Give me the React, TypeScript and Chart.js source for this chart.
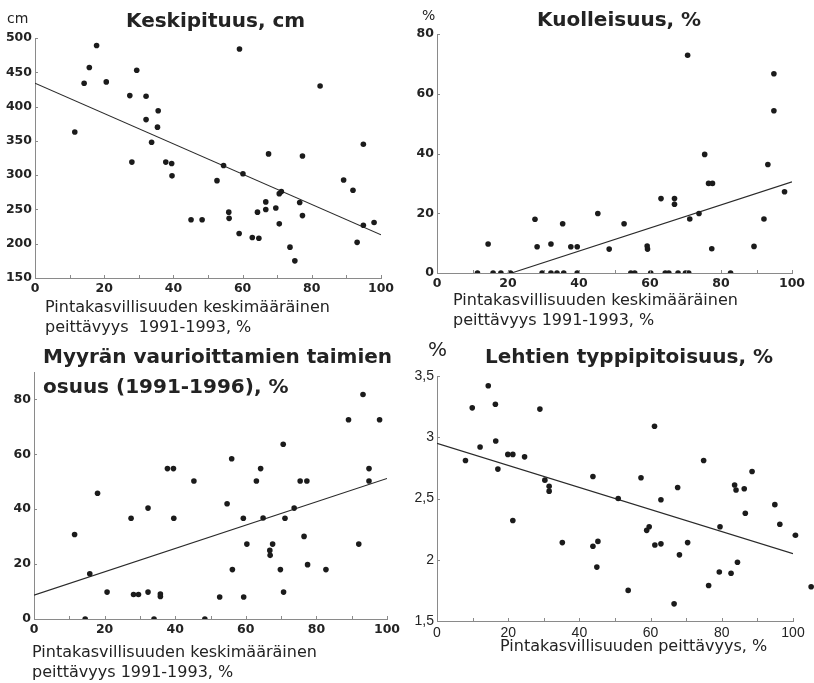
import React, { useEffect, useRef } from "react";
import { Chart, registerables } from "chart.js";

Chart.register(...registerables);

const SANS = "'DejaVu Sans', sans-serif";
const HELV = "'Liberation Sans', Arial, sans-serif";
const INK = "#232323";
const AXIS = "#8a8a8a";
const DOT = "#1b1b1b";
const DOT_RADIUS = 2.8;

// Keskipituus (cm) vs. pintakasvillisuuden peittävyys (%)
const heightCover = [11.5, 14.2, 15.7, 17.8, 20.6, 27.4, 29.4, 28.0, 32.1, 32.1, 35.6, 35.4, 33.7, 37.8, 39.5, 39.6, 45.1, 48.3, 52.6, 54.5, 56.0, 56.1, 59.1, 59.0, 60.1, 62.8, 64.7, 64.3, 66.7, 66.7, 67.5, 69.6, 70.6, 70.6, 71.2, 73.7, 75.1, 76.5, 77.3, 77.3, 82.4, 89.2, 91.9, 93.1, 94.9, 94.9, 98.0];
const heightCm = [363, 434, 457, 489, 436, 416, 453, 319, 415, 381, 394, 370, 348, 319, 317, 299, 235, 235, 292, 314, 246, 237, 484, 215, 302, 209, 208, 246, 261, 250, 331, 252, 229, 273, 276, 195, 175, 260, 328, 241, 430, 293, 278, 202, 345, 227, 231];
const heightFitX = [0, 100];
const heightFitY = [434, 213];

// Kuolleisuus (%)
const mortCover = [11.4, 14.4, 15.8, 18.0, 20.7, 27.6, 28.2, 29.6, 32.1, 32.1, 33.8, 35.4, 35.7, 37.7, 39.5, 39.5, 45.3, 48.5, 52.7, 54.6, 55.7, 59.2, 59.3, 60.2, 63.1, 64.3, 65.3, 66.9, 66.9, 67.9, 70.0, 70.9, 70.6, 71.2, 73.8, 75.4, 76.5, 77.6, 77.4, 82.7, 89.3, 92.1, 93.2, 94.9, 94.9, 97.9];
const mortPct = [0, 9.7, 0, 0, 0, 18, 8.8, 0, 9.7, 0, 0, 16.5, 0, 8.8, 8.8, 0, 19.9, 8, 16.5, 0, 0, 9, 8, 0, 24.9, 0, 0, 24.9, 23, 0, 0, 0, 72.9, 18.1, 19.9, 39.7, 30, 30, 8.1, 0, 8.9, 18.1, 36.3, 66.7, 54.3, 27.2];
const mortFitX = [21, 100];
const mortFitY = [0, 30.5];

// Myyrän vaurioittamien taimien osuus (%)
const voleCover = [11.5, 14.5, 15.8, 18.0, 20.7, 27.5, 28.2, 29.6, 32.3, 32.3, 34.0, 35.8, 35.8, 37.8, 39.5, 39.6, 45.3, 48.4, 52.6, 54.7, 56.0, 56.2, 59.3, 59.4, 60.3, 63.0, 64.2, 64.9, 66.8, 66.9, 67.6, 69.8, 70.6, 70.7, 71.1, 73.7, 75.4, 76.5, 77.3, 77.5, 82.7, 89.1, 92.0, 93.2, 94.9, 94.9, 97.9];
const volePct = [30.8, 0, 16.5, 45.8, 9.8, 36.7, 8.9, 8.9, 40.4, 9.8, 0, 8.2, 9.1, 54.8, 54.8, 36.7, 50.3, 0, 8.0, 42.0, 58.4, 18.0, 36.7, 8.0, 27.3, 50.3, 54.8, 36.8, 25.0, 23.2, 27.3, 18.0, 63.7, 9.8, 36.7, 40.4, 50.3, 30.1, 50.3, 19.8, 18.0, 72.6, 27.3, 81.8, 54.8, 50.3, 72.6];
const voleFitX = [0, 100];
const voleFitY = [8.7, 51.2];

// Lehtien typpipitoisuus (%)
const nitroCover = [8.0, 9.9, 12.1, 14.4, 16.4, 16.5, 17.1, 19.9, 21.3, 21.3, 24.6, 28.9, 30.3, 31.5, 31.5, 35.2, 43.8, 43.8, 45.2, 44.9, 50.9, 53.7, 57.3, 58.9, 59.6, 61.1, 61.2, 62.9, 62.9, 66.6, 67.6, 68.1, 70.4, 74.9, 76.3, 79.5, 79.3, 82.6, 83.6, 84.0, 84.4, 86.3, 86.6, 88.5, 94.9, 96.3, 100.7, 105.1];
const nitroPct = [2.81, 3.24, 2.92, 3.42, 3.27, 2.97, 2.74, 2.86, 2.86, 2.32, 2.84, 3.23, 2.65, 2.6, 2.56, 2.14, 2.68, 2.11, 2.15, 1.94, 2.5, 1.75, 2.67, 2.24, 2.27, 3.09, 2.12, 2.49, 2.13, 1.64, 2.59, 2.04, 2.14, 2.81, 1.79, 2.27, 1.9, 1.89, 2.61, 2.57, 1.98, 2.58, 2.38, 2.72, 2.45, 2.29, 2.2, 1.78];
const nitroFitX = [0, 100];
const nitroFitY = [2.95, 2.05];

type Box = { left: number; top: number; width: number; height: number };
type Area = { left: number; top: number; right: number; bottom: number };
type Label = { text: string; x: number; y: number; font: string };

type PanelSpec = {
  box: Box;
  area: Area;
  xs: number[];
  ys: number[];
  fitX: number[];
  fitY: number[];
  yMin: number;
  yMax: number;
  yStep: number;
  decimalComma?: boolean;
  tickFont: { family: string; size: number; weight?: string };
  tickPad: number;
  labels: Label[];
};

const TITLE_FONT = `bold 20px ${SANS}`;
const AXIS_FONT = `16px ${SANS}`;
const BOLD_TICKS = { family: SANS, size: 12.5, weight: "bold" };

const panels: PanelSpec[] = [
  {
    box: { left: 0, top: 0, width: 407, height: 335 },
    area: { left: 35, top: 38, right: 381, bottom: 278 },
    xs: heightCover, ys: heightCm, fitX: heightFitX, fitY: heightFitY,
    yMin: 150, yMax: 500, yStep: 50,
    tickFont: BOLD_TICKS, tickPad: 3,
    labels: [
      { text: "cm", x: 7, y: 23, font: `14px ${SANS}` },
      { text: "Keskipituus, cm", x: 126, y: 27, font: TITLE_FONT },
      { text: "Pintakasvillisuuden keskimääräinen", x: 45, y: 312, font: AXIS_FONT },
      { text: "peittävyys  1991-1993, %", x: 45, y: 332, font: AXIS_FONT },
    ],
  },
  {
    box: { left: 407, top: 0, width: 407, height: 335 },
    area: { left: 437, top: 34, right: 792, bottom: 273 },
    xs: mortCover, ys: mortPct, fitX: mortFitX, fitY: mortFitY,
    yMin: 0, yMax: 80, yStep: 20,
    tickFont: BOLD_TICKS, tickPad: 3,
    labels: [
      { text: "%", x: 422, y: 20, font: `14px ${SANS}` },
      { text: "Kuolleisuus, %", x: 537, y: 26, font: TITLE_FONT },
      { text: "Pintakasvillisuuden keskimääräinen", x: 453, y: 305, font: AXIS_FONT },
      { text: "peittävyys 1991-1993, %", x: 453, y: 325, font: AXIS_FONT },
    ],
  },
  {
    box: { left: 0, top: 335, width: 407, height: 348 },
    area: { left: 34, top: 372, right: 387, bottom: 619 },
    xs: voleCover, ys: volePct, fitX: voleFitX, fitY: voleFitY,
    yMin: 0, yMax: 90, yStep: 20,
    tickFont: BOLD_TICKS, tickPad: 3,
    labels: [
      { text: "Myyrän vaurioittamien taimien", x: 43, y: 363, font: TITLE_FONT },
      { text: "osuus (1991-1996), %", x: 43, y: 393, font: TITLE_FONT },
      { text: "Pintakasvillisuuden keskimääräinen", x: 32, y: 657, font: AXIS_FONT },
      { text: "peittävyys 1991-1993, %", x: 32, y: 677, font: AXIS_FONT },
    ],
  },
  {
    box: { left: 407, top: 335, width: 407, height: 348 },
    area: { left: 437, top: 376, right: 793, bottom: 621 },
    xs: nitroCover, ys: nitroPct, fitX: nitroFitX, fitY: nitroFitY,
    yMin: 1.5, yMax: 3.5, yStep: 0.5, decimalComma: true,
    tickFont: { family: HELV, size: 14 }, tickPad: 4,
    labels: [
      { text: "%", x: 428, y: 356, font: `20px ${SANS}` },
      { text: "Lehtien typpipitoisuus, %", x: 485, y: 363, font: TITLE_FONT },
      { text: "Pintakasvillisuuden peittävyys, %", x: 500, y: 651, font: AXIS_FONT },
    ],
  },
];

function makeDecor(spec: PanelSpec) {
  return {
    id: "panelDecor",
    afterDatasetsDraw(chart: Chart) {
      // points whose cover value lies past the axis end are still plotted
      const { ctx } = chart;
      const meta = chart.getDatasetMeta(0);
      const xMax = chart.scales.x.max;
      ctx.save();
      ctx.fillStyle = DOT;
      meta.data.forEach((el: any, i: number) => {
        if (spec.xs[i] > xMax) {
          ctx.beginPath();
          ctx.arc(el.x, el.y, DOT_RADIUS, 0, Math.PI * 2);
          ctx.fill();
        }
      });
      ctx.restore();
    },
    afterDraw(chart: Chart) {
      const { ctx, chartArea } = chart;
      const xs = chart.scales.x;
      const ys = chart.scales.y;
      ctx.save();
      // short inward tick marks on both axes
      ctx.strokeStyle = AXIS;
      ctx.lineWidth = 1;
      ctx.beginPath();
      for (let v = 10; v <= 100; v += 10) {
        const px = Math.round(xs.getPixelForValue(v)) + 0.5;
        ctx.moveTo(px, chartArea.bottom);
        ctx.lineTo(px, chartArea.bottom - 3);
      }
      for (let v = spec.yMin + spec.yStep; v <= spec.yMax + 1e-9; v += spec.yStep) {
        const py = Math.round(ys.getPixelForValue(v)) + 0.5;
        ctx.moveTo(chartArea.left, py);
        ctx.lineTo(chartArea.left + 3, py);
      }
      ctx.stroke();
      // titles, units and axis captions
      ctx.fillStyle = INK;
      ctx.textBaseline = "alphabetic";
      ctx.textAlign = "left";
      for (const l of spec.labels) {
        ctx.font = l.font;
        ctx.fillText(l.text, l.x - spec.box.left, l.y - spec.box.top);
      }
      ctx.restore();
    },
  };
}

function Panel({ spec }: { spec: PanelSpec }) {
  const ref = useRef<HTMLCanvasElement>(null);
  useEffect(() => {
    const canvas = ref.current;
    if (!canvas) return;
    const { box, area } = spec;
    const chart = new Chart(canvas, {
      type: "scatter",
      data: {
        datasets: [
          {
            data: spec.xs.map((x, i) => ({ x, y: spec.ys[i] })),
            pointRadius: DOT_RADIUS,
            pointBackgroundColor: DOT,
            pointBorderWidth: 0,
          },
          {
            data: spec.fitX.map((x, i) => ({ x, y: spec.fitY[i] })),
            showLine: true,
            pointRadius: 0,
            borderColor: "#2a2a2a",
            borderWidth: 1.1,
            fill: false,
          },
        ],
      },
      options: {
        animation: false,
        responsive: false,
        maintainAspectRatio: false,
        devicePixelRatio: 1,
        events: [],
        layout: {
          padding: {
            left: 0,
            top: area.top - box.top,
            right: box.left + box.width - area.right,
            bottom: 0,
          },
        },
        plugins: {
          legend: { display: false },
          tooltip: { enabled: false },
          title: { display: false },
        },
        scales: {
          x: {
            type: "linear",
            min: 0,
            max: 100,
            grid: { display: false, drawTicks: false },
            border: { display: true, color: AXIS, width: 1 },
            ticks: {
              stepSize: 20,
              color: INK,
              font: spec.tickFont,
              padding: spec.tickPad,
              maxRotation: 0,
            },
            afterFit: (s: any) => {
              s.height = box.top + box.height - area.bottom;
            },
          },
          y: {
            type: "linear",
            min: spec.yMin,
            max: spec.yMax,
            grid: { display: false, drawTicks: false },
            border: { display: true, color: AXIS, width: 1 },
            ticks: {
              stepSize: spec.yStep,
              includeBounds: false,
              color: INK,
              font: spec.tickFont,
              padding: 3,
              callback: (v: any) => {
                const s = String(Math.round(Number(v) * 100) / 100);
                return spec.decimalComma ? s.replace(".", ",") : s;
              },
            },
            afterFit: (s: any) => {
              s.width = area.left - box.left;
            },
          },
        },
      },
      plugins: [makeDecor(spec)],
    } as any);
    return () => chart.destroy();
  }, [spec]);

  const { box } = spec;
  return (
    <canvas
      ref={ref}
      width={box.width}
      height={box.height}
      style={{
        position: "absolute",
        left: box.left,
        top: box.top,
        width: box.width,
        height: box.height,
      }}
    />
  );
}

export default function App() {
  return (
    <div
      style={{
        position: "absolute",
        left: 0,
        top: 0,
        width: 814,
        height: 683,
        background: "#ffffff",
        overflow: "hidden",
      }}
    >
      {panels.map((p, i) => (
        <Panel key={i} spec={p} />
      ))}
    </div>
  );
}
